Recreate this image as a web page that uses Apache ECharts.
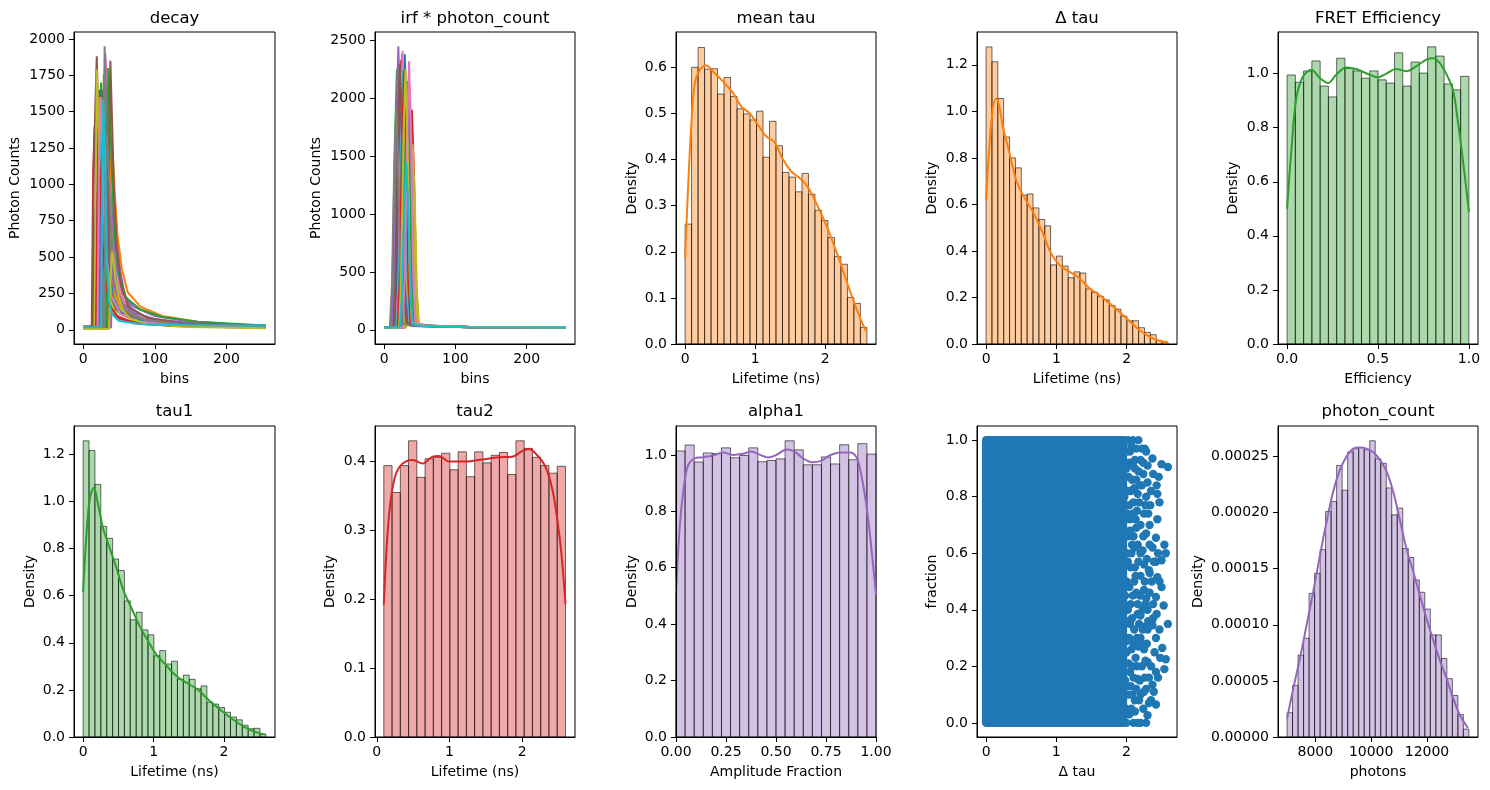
<!DOCTYPE html>
<html>
<head>
  <meta charset="UTF-8">
  <title>Lifetime simulation overview</title>
  <script src="https://cdn.jsdelivr.net/npm/echarts@6/dist/echarts.min.js"></script>
  <style>
    html, body { margin: 0; padding: 0; background: #fff; }
    #main { width: 1490px; height: 790px; }
  </style>
</head>
<body>
<div id="main"></div>
<script>
  // ---- data ----
  // decay traces: [bin, counts]
  const decayTraces = [
    [[0,12],[14,12],[16,600],[18,900],[20,800],[23,550],[27,330],[33,180],[42,100],[65,55],[120,30],[255,16]],
    [[0,18],[37,18],[39,500],[41,800],[43,720],[46,520],[50,330],[56,200],[66,120],[90,65],[150,35],[255,22]],
    [[0,15],[21,15],[23,1300],[25,1700],[27,1450],[30,900],[34,520],[40,270],[50,140],[75,75],[130,40],[255,22]],
    [[0,14],[12,14],[14,1100],[16,1400],[18,1200],[21,750],[25,420],[31,210],[41,110],[65,60],[120,32],[255,18]],
    [[0,16],[39,16],[41,700],[43,950],[45,850],[48,600],[52,400],[58,240],[68,140],[90,80],[150,40],[255,24]],
    [[0,20],[22,20],[24,1200],[26,1650],[28,1400],[31,850],[35,500],[41,260],[52,130],[80,65],[140,35],[255,20]],
    [[0,15],[33,15],[35,1000],[37,1450],[39,1250],[42,800],[46,470],[52,250],[63,130],[90,65],[150,35],[255,20]],
    [[0,12],[15,12],[17,500],[19,750],[21,650],[24,430],[28,260],[34,150],[45,85],[70,45],[130,25],[255,15]],
    [[0,14],[26,14],[28,800],[30,1150],[32,1000],[35,650],[39,380],[45,200],[56,110],[85,55],[150,30],[255,18]],
    [[0,16],[31,16],[33,900],[35,1300],[37,1100],[40,700],[44,420],[50,230],[60,130],[85,70],[140,38],[255,22]],
    [[0,15],[17,15],[19,700],[21,1450],[23,1650],[25,1300],[28,800],[32,450],[38,230],[50,120],[70,70],[110,40],[170,25],[255,18]],
    [[0,20],[20,20],[22,900],[24,1600],[26,1580],[29,1100],[33,650],[40,330],[50,170],[70,90],[110,50],[170,30],[255,22]],
    [[0,10],[25,10],[27,1100],[29,1760],[31,1500],[34,950],[38,560],[44,300],[55,150],[80,80],[130,45],[200,28],[255,22]],
    [[0,12],[28,12],[30,1200],[32,1710],[34,1450],[37,900],[41,520],[48,250],[60,120],[90,60],[140,35],[255,20]],
    [[0,18],[30,18],[32,700],[35,1100],[38,950],[42,650],[48,400],[56,250],[70,160],[100,95],[150,55],[200,38],[255,30]],
    [[0,25],[13,25],[15,1100],[17,1540],[19,1880],[21,1500],[24,950],[28,550],[34,280],[45,140],[70,70],[120,40],[255,22]],
    [[0,15],[27,15],[29,1200],[31,1900],[33,1700],[36,1100],[40,650],[46,330],[56,160],[80,80],[130,45],[255,22]],
    [[0,10],[27,10],[29,1500],[30,1950],[32,1600],[35,1000],[39,580],[45,290],[56,140],[80,70],[140,35],[255,18]],
    [[0,12],[16,12],[18,1200],[19,1790],[21,1500],[24,900],[28,500],[34,250],[44,130],[70,65],[120,35],[255,18]],
    [[0,20],[20,20],[22,1000],[24,1350],[26,1200],[29,800],[33,450],[40,220],[52,110],[80,60],[130,35],[255,20]],
    [[0,15],[23,15],[25,900],[27,1300],[29,1150],[32,750],[36,420],[42,220],[52,120],[80,60],[140,32],[255,18]],
    [[0,20],[33,20],[35,700],[38,1150],[41,1250],[44,950],[48,650],[54,420],[62,260],[80,160],[110,95],[160,55],[220,35],[255,30]],
    [[0,15],[32,15],[34,1300],[35,1800],[37,1600],[40,1100],[44,650],[50,380],[60,220],[80,140],[110,90],[160,55],[255,30]],
    [[0,10],[18,10],[20,900],[22,1200],[24,1000],[27,600],[31,330],[38,160],[50,80],[80,40],[150,22],[255,15]],
    [[0,18],[24,18],[26,800],[28,1250],[30,1150],[33,800],[37,500],[43,300],[52,190],[70,120],[100,75],[150,45],[255,28]],
    [[0,15],[35,15],[36,1200],[38,1850],[40,1500],[43,950],[47,560],[53,300],[63,160],[90,80],[140,45],[255,25]],
    [[0,12],[20,12],[22,1100],[24,1600],[26,1400],[29,850],[33,480],[40,230],[52,110],[80,55],[140,30],[255,18]],
    [[0,15],[30,15],[31,900],[33,1350],[35,1200],[38,800],[42,480],[48,260],[58,140],[85,70],[140,38],[255,20]],
    [[0,5],[36,5],[38,300],[40,540],[42,480],[45,350],[50,220],[56,130],[66,75],[90,40],[150,20],[255,10]],
    [[0,18],[25,18],[27,1100],[28,1580],[30,1300],[33,500],[36,200],[40,110],[50,60],[80,40],[150,32],[255,30]]
  ];

  // irf * photon_count traces: [bin, counts]
  const irfTraces = [
    [[0,18],[12,18],[15,450],[18,1600],[21,2200],[24,1600],[27,450],[30,60],[42,36],[120,22],[255,18]],
    [[0,20],[27,20],[30,420],[33,1500],[36,2100],[39,1500],[42,420],[45,60],[56,36],[130,22],[255,18]],
    [[0,15],[13,15],[16,300],[19,1050],[22,1500],[25,1050],[28,300],[31,50],[44,34],[120,22],[255,18]],
    [[0,20],[30,20],[33,380],[36,1350],[39,1900],[42,1350],[45,380],[48,55],[60,36],[130,22],[255,18]],
    [[0,18],[16,18],[19,470],[22,1680],[25,2380],[28,1680],[31,470],[34,62],[46,38],[120,24],[255,20]],
    [[0,20],[23,20],[26,420],[29,1500],[32,2150],[35,1500],[38,420],[41,58],[53,36],[130,22],[255,18]],
    [[0,18],[10,18],[13,330],[16,1150],[19,1650],[22,1150],[25,330],[28,50],[40,34],[120,22],[255,18]],
    [[0,15],[25,15],[28,350],[31,1250],[34,1800],[37,1250],[40,350],[43,52],[55,35],[130,22],[255,18]],
    [[0,18],[31,18],[34,330],[37,1150],[40,1600],[43,1150],[46,330],[49,50],[61,35],[130,22],[255,18]],
    [[0,20],[15,20],[18,440],[21,1560],[24,2200],[27,1560],[30,440],[33,60],[45,36],[120,23],[255,19]],
    [[0,20],[20,20],[23,450],[26,1700],[29,2380],[32,1700],[35,450],[38,70],[50,40],[120,25],[255,20]],
    [[0,20],[10,20],[13,400],[16,1500],[19,2100],[22,1500],[25,400],[28,60],[40,35],[120,22],[255,18]],
    [[0,15],[9,15],[12,430],[15,1600],[18,2250],[21,1600],[24,430],[27,60],[40,35],[120,22],[255,18]],
    [[0,20],[15,20],[18,450],[21,1650],[24,2330],[27,1650],[30,450],[33,60],[45,38],[120,24],[255,20]],
    [[0,22],[11,22],[14,470],[17,1700],[20,2450],[23,1700],[26,470],[29,65],[42,38],[120,25],[255,20]],
    [[0,20],[24,20],[27,300],[30,1050],[33,1500],[36,1050],[39,300],[42,50],[55,35],[130,22],[255,18]],
    [[0,18],[17,18],[20,460],[23,1700],[26,2410],[29,1700],[32,460],[35,65],[47,40],[120,24],[255,20]],
    [[0,15],[22,15],[25,400],[28,1400],[31,2000],[34,1400],[37,400],[40,55],[52,36],[130,22],[255,18]],
    [[0,18],[29,18],[32,300],[35,1050],[38,1500],[41,1050],[44,300],[47,50],[58,36],[130,22],[255,18]],
    [[0,20],[18,20],[21,440],[24,1600],[27,2250],[30,1600],[33,440],[36,60],[48,38],[120,24],[255,20]],
    [[0,20],[14,20],[17,420],[20,1500],[23,2100],[26,1500],[29,420],[32,60],[45,36],[120,23],[255,19]],
    [[0,18],[20,18],[23,380],[26,1350],[29,1900],[32,1350],[35,380],[38,55],[50,35],[120,22],[255,18]],
    [[0,15],[24,15],[27,430],[30,1520],[33,2150],[36,1520],[39,430],[42,60],[55,38],[130,23],[255,18]],
    [[0,20],[19,20],[22,450],[25,1580],[28,2240],[31,1580],[34,450],[37,60],[50,38],[120,24],[255,20]],
    [[0,18],[26,18],[29,400],[32,1420],[35,2000],[38,1420],[41,400],[44,55],[56,36],[130,22],[255,18]],
    [[0,20],[13,20],[16,460],[19,1630],[22,2300],[25,1630],[28,460],[31,62],[44,38],[120,24],[255,20]],
    [[0,18],[26,18],[29,460],[32,1640],[35,2320],[38,1640],[41,460],[44,62],[56,38],[130,24],[255,20]],
    [[0,15],[8,15],[11,380],[14,1350],[17,1900],[20,1350],[23,380],[26,55],[38,34],[120,22],[255,18]],
    [[0,18],[21,18],[24,450],[27,1600],[30,2250],[33,1600],[36,450],[39,60],[50,38],[120,24],[255,20]],
    [[0,20],[22,20],[25,300],[28,1030],[31,1450],[34,1030],[37,300],[40,50],[52,35],[120,22],[255,20]]
  ];

  // histograms: bin range + density per bin
  const meanTauRange = [0, 2.593];
  const meanTauDensity = [0.26, 0.60, 0.643, 0.596, 0.597, 0.542, 0.578, 0.537, 0.51, 0.499, 0.486, 0.505, 0.405, 0.483,
    0.43, 0.372, 0.362, 0.33, 0.37, 0.325, 0.29, 0.268, 0.231, 0.19, 0.173, 0.101, 0.088, 0.036];
  const meanTauKdeX = [0, 0.043, 0.09, 0.138, 0.209, 0.304, 0.399, 0.542, 0.684, 0.803, 0.922, 1.04, 1.159, 1.278, 1.397,
    1.515, 1.634, 1.729, 1.824, 1.919, 2.06, 2.2, 2.347, 2.489, 2.584];
  const meanTauKdeY = [0.186, 0.34, 0.479, 0.565, 0.594, 0.604, 0.591, 0.569, 0.544, 0.515, 0.5, 0.475, 0.45, 0.437, 0.4,
    0.374, 0.36, 0.345, 0.32, 0.29, 0.24, 0.182, 0.117, 0.059, 0.027];

  const deltaTauRange = [0, 2.588];
  const deltaTauDensity = [1.277, 1.213, 1.055, 0.89, 0.80, 0.757, 0.64, 0.645, 0.585, 0.535, 0.508, 0.34, 0.378, 0.335,
    0.285, 0.31, 0.305, 0.237, 0.222, 0.205, 0.19, 0.165, 0.15, 0.12, 0.10, 0.10, 0.07, 0.05, 0.04, 0.015, 0.008];
  const deltaTauKdeX = [0, 0.047, 0.095, 0.142, 0.19, 0.237, 0.332, 0.427, 0.521, 0.664, 0.806, 0.924, 1.043, 1.185, 1.327,
    1.47, 1.611, 1.754, 1.896, 2.038, 2.18, 2.322, 2.464, 2.588];
  const deltaTauKdeY = [0.617, 0.85, 1.008, 1.055, 1.02, 0.936, 0.821, 0.706, 0.642, 0.57, 0.477, 0.39, 0.34, 0.311, 0.283,
    0.24, 0.211, 0.175, 0.139, 0.10, 0.06, 0.032, 0.014, 0.007];

  const fretRange = [0, 1];
  const fretDensity = [0.995, 0.968, 1.01, 1.047, 0.954, 0.914, 1.057, 1.019, 1.01, 0.983, 1.01, 0.977, 0.965, 1.077,
    0.954, 1.043, 1.002, 1.099, 1.065, 0.962, 0.94, 0.99];
  const fretKdeX = [0, 0.024, 0.051, 0.088, 0.134, 0.18, 0.225, 0.27, 0.326, 0.38, 0.454, 0.5, 0.546, 0.6, 0.656, 0.71,
    0.766, 0.802, 0.839, 0.875, 0.912, 0.94, 0.967, 1.0];
  const fretKdeY = [0.50, 0.72, 0.91, 0.99, 1.014, 0.984, 0.965, 0.996, 1.023, 1.017, 0.996, 0.986, 1.0, 1.017, 1.009, 1.027,
    1.052, 1.057, 1.04, 1.0, 0.94, 0.82, 0.68, 0.488];

  const tau1Range = [0, 2.593];
  const tau1Density = [1.258, 1.217, 1.073, 0.895, 0.844, 0.756, 0.707, 0.578, 0.498, 0.53, 0.455, 0.434, 0.345, 0.367,
    0.31, 0.322, 0.245, 0.263, 0.245, 0.205, 0.217, 0.148, 0.14, 0.125, 0.105, 0.085, 0.073, 0.05, 0.035, 0.037, 0.012];
  const tau1KdeX = [0, 0.047, 0.095, 0.152, 0.213, 0.284, 0.379, 0.474, 0.569, 0.687, 0.806, 0.924, 1.043, 1.161, 1.28,
    1.398, 1.517, 1.635, 1.754, 1.872, 1.99, 2.133, 2.275, 2.417, 2.592];
  const tau1KdeY = [0.615, 0.858, 1.013, 1.059, 0.985, 0.886, 0.801, 0.717, 0.625, 0.547, 0.469, 0.406, 0.349, 0.31, 0.271,
    0.243, 0.222, 0.2, 0.165, 0.134, 0.105, 0.073, 0.045, 0.024, 0.01];

  const tau2Range = [0.096, 2.594];
  const tau2Density = [0.394, 0.355, 0.394, 0.43, 0.377, 0.404, 0.406, 0.412, 0.388, 0.414, 0.378, 0.414, 0.398, 0.409,
    0.413, 0.381, 0.43, 0.419, 0.406, 0.394, 0.383, 0.393];
  const tau2KdeX = [0.096, 0.137, 0.183, 0.242, 0.31, 0.402, 0.493, 0.63, 0.767, 0.858, 0.995, 1.224, 1.452, 1.68, 1.863,
    2.0, 2.09, 2.205, 2.32, 2.41, 2.48, 2.54, 2.594];
  const tau2KdeY = [0.192, 0.279, 0.337, 0.375, 0.392, 0.4, 0.402, 0.397, 0.407, 0.408, 0.4, 0.4, 0.403, 0.406, 0.407,
    0.415, 0.418, 0.409, 0.392, 0.361, 0.317, 0.264, 0.193];

  const alpha1Range = [0, 1];
  const alpha1Density = [1.014, 1.035, 0.975, 1.007, 1.005, 1.025, 0.99, 0.998, 1.025, 0.976, 0.98, 0.986, 1.05, 1.018,
    0.965, 0.965, 0.993, 0.968, 1.036, 0.983, 1.04, 1.003];
  const alpha1KdeX = [0, 0.018, 0.038, 0.06, 0.093, 0.135, 0.185, 0.235, 0.285, 0.335, 0.377, 0.418, 0.46, 0.502, 0.552,
    0.593, 0.635, 0.685, 0.727, 0.768, 0.818, 0.868, 0.902, 0.927, 0.952, 0.972, 1.0];
  const alpha1KdeY = [0.512, 0.739, 0.88, 0.962, 0.988, 0.992, 0.998, 1.009, 1.0, 1.004, 1.012, 1.001, 0.991, 1.0, 1.019,
    1.012, 0.988, 0.974, 0.98, 0.998, 1.009, 1.009, 0.992, 0.927, 0.821, 0.703, 0.505];

  const photonRange = [6988, 13500];
  const photonDensity = [2.17e-5, 4.6e-5, 7.3e-5, 8.8e-5, 1.28e-4, 1.46e-4, 1.67e-4, 2.01e-4, 2.10e-4, 2.42e-4, 2.20e-4,
    2.54e-4, 2.57e-4, 2.58e-4, 2.56e-4, 2.64e-4, 2.48e-4, 2.44e-4, 2.22e-4, 1.98e-4, 2.04e-4, 1.68e-4, 1.60e-4, 1.40e-4,
    1.29e-4, 1.14e-4, 0.91e-4, 0.91e-4, 0.70e-4, 0.52e-4, 0.37e-4, 0.20e-4, 0.07e-4];
  const photonKdeX = [6988, 7214, 7452, 7690, 7929, 8167, 8405, 8643, 8881, 9119, 9357, 9595, 9833, 10071, 10310, 10548,
    10786, 11024, 11262, 11500, 11738, 11976, 12214, 12452, 12690, 12929, 13167, 13464];
  const photonKdeY = [1.63e-5, 4.36e-5, 7.04e-5, 1.0e-4, 1.3e-4, 1.62e-4, 1.92e-4, 2.19e-4, 2.38e-4, 2.5e-4, 2.57e-4,
    2.58e-4, 2.57e-4, 2.54e-4, 2.47e-4, 2.37e-4, 2.19e-4, 1.94e-4, 1.68e-4, 1.48e-4, 1.27e-4, 1.06e-4, 8.7e-5, 6.9e-5,
    5.3e-5, 3.5e-5, 2.0e-5, 8e-6];

  // scatter: saturated core extent [x0, x1, y0, y1] and the sparser fringe points [dtau, fraction]
  const scatterCore = [0, 1.95, 0, 1];
  const scatterFringe = [
    [1.96,1.0],[2.02,1.0],[2.09,1.0],[2.17,1.0],[2.26,0.97],[2.05,0.96],[2.12,0.93],[2.2,0.93],[2.3,0.91],[2.37,0.935],
    [2.5,0.915],[2.59,0.905],[2.24,0.88],[2.46,0.87],[2.43,0.84],[2.44,0.81],[2.0,0.9],[2.08,0.86],[2.16,0.81],[2.1,0.78],
    [2.34,0.77],[2.25,0.74],[2.44,0.72],[2.05,0.72],[2.14,0.69],[2.28,0.67],[2.42,0.655],[2.37,0.62],[2.54,0.63],[2.56,0.6],
    [2.5,0.575],[2.42,0.57],[2.32,0.54],[2.2,0.6],[2.08,0.63],[2.12,0.55],[2.44,0.515],[2.0,0.5],[2.11,0.5],[2.25,0.47],
    [2.5,0.48],[2.42,0.445],[2.28,0.44],[2.16,0.42],[2.53,0.415],[2.43,0.385],[2.16,0.385],[2.59,0.35],[2.37,0.345],[2.3,0.33],
    [2.05,0.35],[2.2,0.3],[2.42,0.3],[2.1,0.28],[2.51,0.265],[2.25,0.26],[2.56,0.225],[2.3,0.215],[2.54,0.19],[2.42,0.18],
    [2.15,0.2],[2.05,0.18],[2.16,0.155],[2.37,0.135],[2.28,0.12],[2.2,0.1],[2.08,0.1],[2.42,0.065],[2.18,0.08],[2.3,0.027],
    [2.28,0.0],[2.2,0.0],[2.1,0.0],[2.0,0.0],[2.04,0.03],[2.0,0.25],[1.98,0.45],[2.0,0.6],[1.97,0.8],[2.02,0.82],
    [1.98,0.15],[2.06,0.42],[2.12,0.9],[2.25,0.56],[2.33,0.63],[2.35,0.2],[2.3,0.4],[2.4,0.25],
    [1.99,0.05],[2.03,0.1],[2.07,0.05],[2.12,0.04],[2.16,0.0],[2.24,0.05],[2.26,0.16],[2.22,0.2],[2.13,0.23],[2.04,0.3],
    [2.08,0.37],[2.18,0.35],[2.23,0.4],[2.02,0.4],[2.14,0.46],[2.2,0.52],[2.06,0.55],[2.02,0.66],[2.16,0.63],[2.24,0.66],
    [2.1,0.66],[2.2,0.7],[2.04,0.77],[2.15,0.75],[2.28,0.8],[2.22,0.84],[2.06,0.82],[2.14,0.86],[2.04,0.92],[2.0,0.96],
    [2.22,0.97],[2.3,0.85],[2.33,0.7],[2.36,0.5],[2.33,0.46],[2.35,0.08],[2.32,0.16],[2.26,0.34],[2.14,0.12],[2.1,0.16],
    [2.22,0.28],[2.38,0.37],[2.47,0.5],[2.47,0.33],
    [2.01,0.13],[2.03,0.21],[2.07,0.26],[2.11,0.33],[2.01,0.36],[2.09,0.45],[2.04,0.48],[2.13,0.52],[2.17,0.57],[2.02,0.57],
    [2.07,0.6],[2.12,0.62],[2.05,0.68],[2.13,0.72],[2.09,0.74],[2.01,0.74],[2.18,0.78],[2.11,0.83],[2.03,0.87],[2.09,0.91],
    [2.17,0.89],[2.24,0.92],[2.07,0.98],[2.14,0.97],[2.19,0.84],[2.27,0.77],[2.23,0.61],[2.29,0.58],[2.26,0.5],[2.19,0.45],
    [2.27,0.42],[2.2,0.38],[2.31,0.36],[2.23,0.33],[2.17,0.27],[2.29,0.28],[2.27,0.22],[2.19,0.15],[2.25,0.11],[2.32,0.07],
    [2.12,0.08],[2.06,0.13],[2.09,0.2],[2.01,0.29],[2.15,0.3],[2.33,0.53],[2.31,0.74],[2.35,0.82],[2.38,0.88],[2.28,0.96],
    [2.39,0.57],[2.38,0.42],[2.39,0.11],[2.45,0.6],[2.47,0.78],[2.48,0.23],[2.45,0.16]
  ];

  // ---- layout / style ----
  const FONT = 'DejaVu Sans';
  const TAB10 = ['#1f77b4','#ff7f0e','#2ca02c','#d62728','#9467bd','#8c564b','#e377c2','#7f7f7f','#bcbd22','#17becf'];
  const fmt0 = v => String(v);
  const fmt1 = v => v.toFixed(1);
  const fmt2 = v => v.toFixed(2);
  const fmt5 = v => v.toFixed(5);
  const steps = (a, b, s) => { const out = []; for (let v = a; v <= b + s / 1e6; v += s) out.push(+v.toFixed(6)); return out; };

  const panels = [
    { left: 74, top: 32, w: 201, h: 312, title: 'decay', xName: 'bins', yName: 'Photon Counts', yNameX: 15,
      x: { min: -12.75, max: 267.75, ticks: [0, 100, 200], fmt: fmt0 },
      y: { min: -97.5, max: 2047.5, ticks: steps(0, 2000, 250), fmt: fmt0 } },
    { left: 375, top: 32, w: 200, h: 312, title: 'irf * photon_count', xName: 'bins', yName: 'Photon Counts', yNameX: 316.5,
      x: { min: -12.75, max: 267.75, ticks: [0, 100, 200], fmt: fmt0 },
      y: { min: -122.5, max: 2572.5, ticks: steps(0, 2500, 500), fmt: fmt0 } },
    { left: 676, top: 32, w: 200, h: 312, title: 'mean tau', xName: 'Lifetime (ns)', yName: 'Density', yNameX: 632,
      x: { min: -0.1297, max: 2.7227, ticks: [0, 1, 2], fmt: fmt0 },
      y: { min: 0, max: 0.6766, ticks: steps(0, 0.6, 0.1), fmt: fmt1 } },
    { left: 977, top: 32, w: 200, h: 312, title: 'Δ tau', xName: 'Lifetime (ns)', yName: 'Density', yNameX: 932.5,
      x: { min: -0.1294, max: 2.7174, ticks: [0, 1, 2], fmt: fmt0 },
      y: { min: 0, max: 1.341, ticks: steps(0, 1.2, 0.2), fmt: fmt1 } },
    { left: 1278, top: 32, w: 200, h: 312, title: 'FRET Efficiency', xName: 'Efficiency', yName: 'Density', yNameX: 1233.5,
      x: { min: -0.05, max: 1.05, ticks: [0, 0.5, 1], fmt: fmt1 },
      y: { min: 0, max: 1.154, ticks: steps(0, 1.0, 0.2), fmt: fmt1 } },
    { left: 74, top: 426, w: 201, h: 311, title: 'tau1', xName: 'Lifetime (ns)', yName: 'Density', yNameX: 30,
      x: { min: -0.1297, max: 2.7227, ticks: [0, 1, 2], fmt: fmt0 },
      y: { min: 0, max: 1.321, ticks: steps(0, 1.2, 0.2), fmt: fmt1 } },
    { left: 375, top: 426, w: 200, h: 311, title: 'tau2', xName: 'Lifetime (ns)', yName: 'Density', yNameX: 330.7,
      x: { min: -0.025, max: 2.725, ticks: [0, 1, 2], fmt: fmt0 },
      y: { min: 0, max: 0.4515, ticks: steps(0, 0.4, 0.1), fmt: fmt1 } },
    { left: 676, top: 426, w: 200, h: 311, title: 'alpha1', xName: 'Amplitude Fraction', yName: 'Density', yNameX: 632,
      x: { min: 0, max: 1, ticks: steps(0, 1, 0.25), fmt: fmt2 },
      y: { min: 0, max: 1.1025, ticks: steps(0, 1.0, 0.2), fmt: fmt1 } },
    { left: 977, top: 426, w: 200, h: 311, title: '', xName: 'Δ tau', yName: 'fraction', yNameX: 932.5,
      x: { min: -0.13, max: 2.72, ticks: [0, 1, 2], fmt: fmt0 },
      y: { min: -0.05, max: 1.05, ticks: steps(0, 1.0, 0.2), fmt: fmt1 } },
    { left: 1278, top: 426, w: 200, h: 311, title: 'photon_count', xName: 'photons', yName: 'Density', yNameX: 1198.5,
      x: { min: 6664, max: 13826, ticks: [8000, 10000, 12000], fmt: fmt0 },
      y: { min: 0, max: 0.0002772, ticks: steps(0, 0.00025, 0.00005), fmt: fmt5 } }
  ];

  const labelStyle = { color: '#000', fontFamily: FONT, fontSize: 14 };

  function histSeries(idx, range, dens, color) {
    const w = (range[1] - range[0]) / dens.length;
    return {
      type: 'custom', xAxisIndex: idx, yAxisIndex: idx, silent: true, z: 2,
      encode: { x: [0, 1], y: 2 },
      data: dens.map((d, i) => [range[0] + i * w, range[0] + (i + 1) * w, d]),
      renderItem(params, api) {
        const p0 = api.coord([api.value(0), api.value(2)]);
        const p1 = api.coord([api.value(1), 0]);
        return {
          type: 'rect',
          shape: { x: p0[0], y: p0[1], width: p1[0] - p0[0], height: p1[1] - p0[1] },
          style: { fill: echarts.color.modifyAlpha(color, 0.4), stroke: 'rgba(0,0,0,0.72)', lineWidth: 0.8 }
        };
      }
    };
  }

  function kdeSeries(idx, xs, ys, color) {
    return {
      type: 'line', xAxisIndex: idx, yAxisIndex: idx, silent: true, z: 3,
      data: xs.map((x, i) => [x, ys[i]]),
      showSymbol: false, symbol: 'none', smooth: 0.35,
      lineStyle: { color, width: 2 }
    };
  }

  function traceSeries(idx, traces) {
    return traces.map((t, i) => ({
      type: 'line', xAxisIndex: idx, yAxisIndex: idx, silent: true, z: 2,
      data: t, showSymbol: false, symbol: 'none', clip: true,
      lineStyle: { color: TAB10[i % 10], width: 2 }
    }));
  }

  const series = [
    ...traceSeries(0, decayTraces),
    ...traceSeries(1, irfTraces),
    histSeries(2, meanTauRange, meanTauDensity, TAB10[1]), kdeSeries(2, meanTauKdeX, meanTauKdeY, TAB10[1]),
    histSeries(3, deltaTauRange, deltaTauDensity, TAB10[1]), kdeSeries(3, deltaTauKdeX, deltaTauKdeY, TAB10[1]),
    histSeries(4, fretRange, fretDensity, TAB10[2]), kdeSeries(4, fretKdeX, fretKdeY, TAB10[2]),
    histSeries(5, tau1Range, tau1Density, TAB10[2]), kdeSeries(5, tau1KdeX, tau1KdeY, TAB10[2]),
    histSeries(6, tau2Range, tau2Density, TAB10[3]), kdeSeries(6, tau2KdeX, tau2KdeY, TAB10[3]),
    histSeries(7, alpha1Range, alpha1Density, TAB10[4]), kdeSeries(7, alpha1KdeX, alpha1KdeY, TAB10[4]),
    {
      // dense, fully saturated part of the scatter cloud
      type: 'custom', xAxisIndex: 8, yAxisIndex: 8, silent: true, z: 2,
      encode: { x: [0, 1], y: [2, 3] },
      data: [scatterCore],
      renderItem(params, api) {
        const a = api.coord([api.value(0), api.value(3)]);
        const b = api.coord([api.value(1), api.value(2)]);
        const r = 4.2;
        return {
          type: 'rect',
          shape: { x: a[0] - r, y: a[1] - r, width: b[0] - a[0] + 2 * r, height: b[1] - a[1] + 2 * r, r: r },
          style: { fill: TAB10[0] }
        };
      }
    },
    {
      type: 'scatter', xAxisIndex: 8, yAxisIndex: 8, silent: true, z: 3,
      data: scatterFringe, symbolSize: 8.4, itemStyle: { color: TAB10[0], opacity: 1 }
    },
    histSeries(9, photonRange, photonDensity, TAB10[4]), kdeSeries(9, photonKdeX, photonKdeY, TAB10[4])
  ];

  const rowTitleY = [18.5, 411.5];
  const rowXNameY = [379, 772];
  const graphic = [];
  panels.forEach((p, i) => {
    const row = i < 5 ? 0 : 1;
    const cx = p.left + p.w / 2;
    if (p.title) {
      graphic.push({ type: 'text', x: cx, y: rowTitleY[row], silent: true,
        style: { text: p.title, align: 'center', verticalAlign: 'middle', fill: '#000', fontFamily: FONT, fontSize: 16.5 } });
    }
    graphic.push({ type: 'text', x: cx, y: rowXNameY[row], silent: true,
      style: { text: p.xName, align: 'center', verticalAlign: 'middle', fill: '#000', fontFamily: FONT, fontSize: 14 } });
    graphic.push({ type: 'text', x: p.yNameX, y: p.top + p.h / 2, rotation: Math.PI / 2, silent: true,
      style: { text: p.yName, align: 'center', verticalAlign: 'middle', fill: '#000', fontFamily: FONT, fontSize: 14 } });
  });

  const chart = echarts.init(document.getElementById('main'), null, { renderer: 'canvas' });
  chart.setOption({
    animation: false,
    backgroundColor: '#ffffff',
    grid: panels.map(p => ({
      left: p.left, top: p.top, width: p.w, height: p.h,
      show: true, borderColor: '#000', borderWidth: 1, backgroundColor: 'transparent',
      containLabel: false, outerBoundsMode: 'none'
    })),
    xAxis: panels.map((p, i) => ({
      type: 'value', gridIndex: i, min: p.x.min, max: p.x.max, z: 10,
      axisLine: { show: true, onZero: false, lineStyle: { color: '#000', width: 1 } },
      axisTick: { show: true, customValues: p.x.ticks, length: 5, lineStyle: { color: '#000', width: 1 } },
      axisLabel: Object.assign({ customValues: p.x.ticks, formatter: p.x.fmt, margin: 8 }, labelStyle),
      splitLine: { show: false }
    })),
    yAxis: panels.map((p, i) => ({
      type: 'value', gridIndex: i, min: p.y.min, max: p.y.max, z: 10,
      axisLine: { show: true, onZero: false, lineStyle: { color: '#000', width: 1 } },
      axisTick: { show: true, customValues: p.y.ticks, length: 5, lineStyle: { color: '#000', width: 1 } },
      axisLabel: Object.assign({ customValues: p.y.ticks, formatter: p.y.fmt, margin: 9 }, labelStyle),
      splitLine: { show: false }
    })),
    series,
    graphic
  });
</script>
</body>
</html>
